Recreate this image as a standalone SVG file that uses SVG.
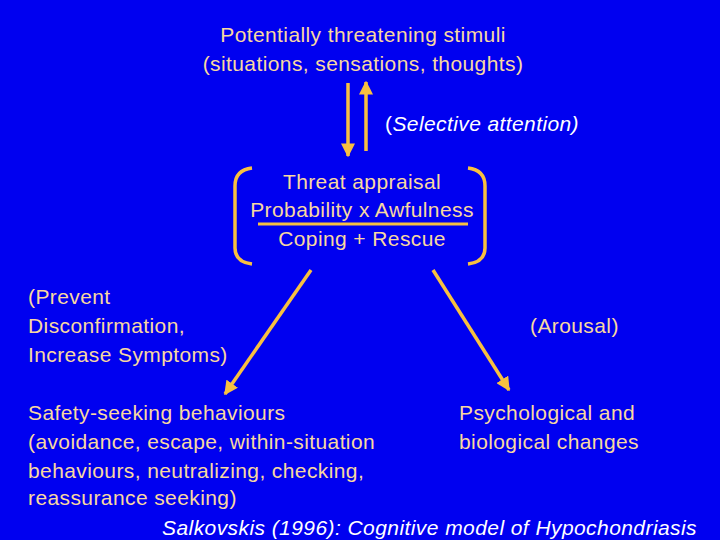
<svg xmlns="http://www.w3.org/2000/svg" width="720" height="540" viewBox="0 0 720 540">
<style>
.t{font-family:"Liberation Sans",Arial,sans-serif;font-size:21px;letter-spacing:0.4px;fill:#F8D8A0}
.w{font-family:"Liberation Sans",Arial,sans-serif;font-size:21px;letter-spacing:0.4px;fill:#FFFFFF}
.c{stroke:#F8C040;stroke-width:3.5;fill:none}
</style>
<defs>
<marker id="ah" viewBox="0 0 10 10" refX="9" refY="5" markerWidth="4" markerHeight="4" orient="auto" markerUnits="strokeWidth">
<path d="M0,0 L10,5 L0,10 Z" fill="#F8C040"/>
</marker>
</defs>
<rect width="720" height="540" fill="#0000F0"/>
<g id="stimuli">
<text class="t" x="363" y="42" text-anchor="middle">Potentially threatening stimuli</text>
<text class="t" x="363" y="71" text-anchor="middle">(situations, sensations, thoughts)</text>
</g>
<g id="attention">
<text class="w" x="385" y="131">(<tspan font-style="italic">Selective attention)</tspan></text>
</g>
<g id="appraisal">
<path class="c" d="M252,168 Q235,170 235,186 L235,248 Q235,262 252,264"/>
<path class="c" d="M468,168 Q485,170 485,186 L485,248 Q485,262 468,264"/>
<text class="t" x="362" y="189" text-anchor="middle">Threat appraisal</text>
<text class="t" x="362" y="217" text-anchor="middle">Probability x Awfulness</text>
<line x1="258" y1="224" x2="468" y2="224" stroke="#F8C040" stroke-width="3"/>
<text class="t" x="362" y="246" text-anchor="middle">Coping + Rescue</text>
</g>
<g id="prevent">
<text class="t" x="28" y="304">(Prevent</text>
<text class="t" x="28" y="333">Disconfirmation,</text>
<text class="t" x="28" y="362">Increase Symptoms)</text>
</g>
<g id="arousal">
<text class="t" x="530" y="333">(Arousal)</text>
</g>
<g id="safety">
<text class="t" x="28" y="420">Safety-seeking behaviours</text>
<text class="t" x="28" y="449">(avoidance, escape, within-situation</text>
<text class="t" x="28" y="478">behaviours, neutralizing, checking,</text>
<text class="t" x="28" y="505">reassurance seeking)</text>
</g>
<g id="changes">
<text class="t" x="459" y="420">Psychological and</text>
<text class="t" x="459" y="449">biological changes</text>
</g>
<g id="connectors">
<line class="c" x1="348" y1="83" x2="348" y2="156" marker-end="url(#ah)"/>
<line class="c" x1="366" y1="151" x2="366" y2="82" marker-end="url(#ah)"/>
<line class="c" x1="311" y1="270" x2="225" y2="394" marker-end="url(#ah)"/>
<line class="c" x1="433" y1="270" x2="509" y2="390" marker-end="url(#ah)"/>
</g>
<g id="footer">
<text class="w" x="162" y="535" font-style="italic" letter-spacing="0" textLength="535" lengthAdjust="spacing">Salkovskis (1996): Cognitive model of Hypochondriasis</text>
</g>
</svg>
